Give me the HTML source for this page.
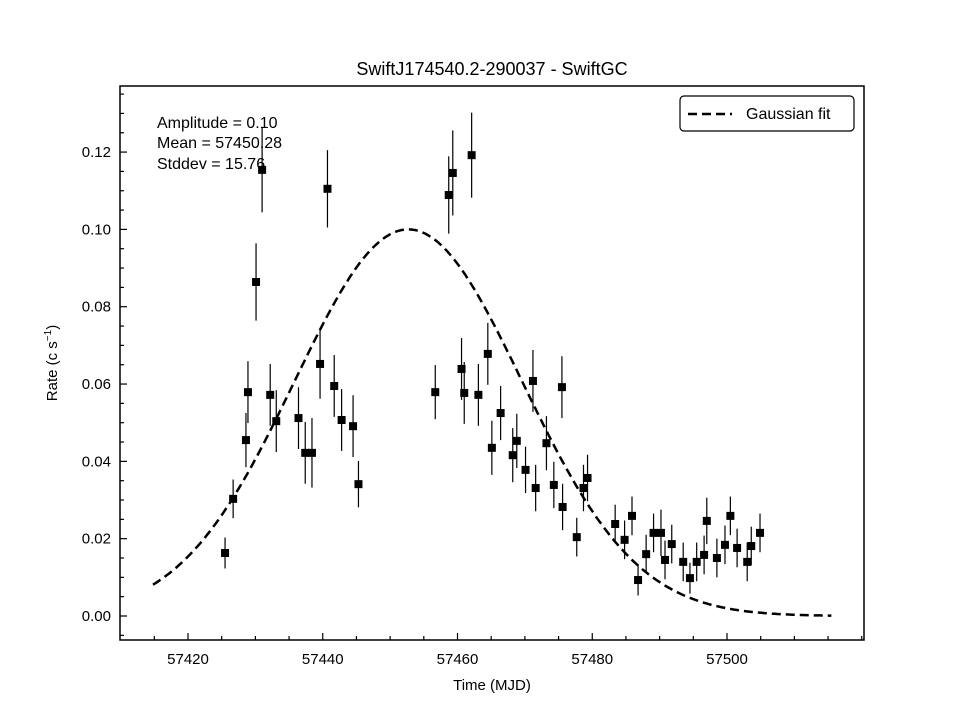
<!DOCTYPE html>
<html><head><meta charset="utf-8"><style>
body{margin:0;background:#fff}
svg{display:block;font-family:"Liberation Sans",sans-serif}
</style></head><body>
<svg id="chart" width="960" height="720">
<text x="492" y="75" font-size="18" text-anchor="middle">SwiftJ174540.2-290037 - SwiftGC</text>
<g id="plot"></g>
<rect x="120" y="86" width="744" height="554" fill="none" stroke="#000" stroke-width="1.5"/>
<text x="492" y="690" font-size="15" text-anchor="middle">Time (MJD)</text>
<text transform="translate(57,363) rotate(-90)" font-size="15" text-anchor="middle">Rate (c s<tspan dy="-6" font-size="10">−1</tspan><tspan dy="6">)</tspan></text>
<g font-size="16">
<text x="157" y="128">Amplitude = 0.10</text>
<text x="157" y="148">Mean = 57450.28</text>
<text x="157" y="169">Stddev = 15.76</text>
</g>
<g>
<rect x="680" y="96" width="174" height="35" rx="4" fill="#fff" stroke="#000" stroke-width="1.2"/>
<line x1="688" y1="114" x2="732" y2="114" stroke="#000" stroke-width="2.5" stroke-dasharray="9,5"/>
<text x="746" y="119" font-size="16">Gaussian fit</text>
</g>
</svg>
<script>
const times=[57425.5,57426.7,57428.6,57428.9,57430.1,57431.0,57432.2,57433.1,57436.4,57437.4,57438.4,57439.6,57440.7,57441.7,57442.8,57444.5,57445.3,57456.7,57458.7,57459.3,57460.6,57461.0,57462.1,57463.1,57464.5,57465.1,57466.4,57468.2,57468.8,57470.1,57471.2,57471.6,57473.2,57474.3,57475.5,57475.6,57477.7,57478.7,57479.3,57483.4,57484.8,57485.9,57486.8,57488.0,57489.1,57490.2,57490.8,57491.8,57493.5,57494.5,57495.5,57496.6,57497.0,57498.5,57499.7,57500.5,57501.5,57503.0,57503.6,57504.9];
const rates=[0.0163,0.0303,0.0455,0.0579,0.0864,0.1154,0.0572,0.0504,0.0512,0.0422,0.0422,0.0652,0.1105,0.0595,0.0507,0.0491,0.0341,0.0579,0.1089,0.1146,0.0639,0.0577,0.1192,0.0572,0.0678,0.0435,0.0525,0.0416,0.0453,0.0378,0.0608,0.0331,0.0447,0.0339,0.0592,0.0282,0.0204,0.0331,0.0357,0.0238,0.0197,0.0259,0.0093,0.0160,0.0215,0.0215,0.0145,0.0186,0.0140,0.0098,0.0140,0.0158,0.0246,0.0150,0.0184,0.0259,0.0176,0.0140,0.0181,0.0215];
const errs=[0.004,0.005,0.007,0.008,0.010,0.011,0.008,0.008,0.008,0.008,0.009,0.009,0.010,0.008,0.008,0.008,0.006,0.007,0.010,0.011,0.008,0.008,0.011,0.008,0.008,0.007,0.007,0.007,0.007,0.006,0.008,0.006,0.007,0.006,0.008,0.006,0.005,0.006,0.006,0.005,0.005,0.005,0.004,0.005,0.005,0.006,0.005,0.005,0.005,0.004,0.005,0.005,0.006,0.005,0.005,0.005,0.005,0.005,0.005,0.005];
const xTicks=[57420,57440,57460,57480,57500];
const yTicks=[0.00,0.02,0.04,0.06,0.08,0.10,0.12];
const fitAmp=0.10, fitMean=57452.7, fitStd=16.9, fitStart=57414.8, fitEnd=57515.5;
const X0=57420,XPX0=188,XS=6.7375,Y0PX=616,YS=3866;
const sx=v=>XPX0+(v-X0)*XS, sy=v=>Y0PX-v*YS;
const NS="http://www.w3.org/2000/svg",g=document.getElementById('plot');
function mk(t,a){const e=document.createElementNS(NS,t);for(const k in a)e.setAttribute(k,a[k]);g.appendChild(e);return e;}
for(let v=57410;v<=57520;v+=5){const x=sx(v);if(x<121||x>863)continue;const major=xTicks.includes(v);
const t=mk('line',{x1:x,x2:x,y1:640,y2:640-(major?7:4),stroke:'#000','stroke-width':1.2});

}
for(let i=-1;i<=27;i++){const v=i*0.005;const y=sy(v);if(y<87||y>639)continue;const major=i%4===0;
const t=mk('line',{x1:120,x2:120+(major?7:4),y1:y,y2:y,stroke:'#000','stroke-width':1.2});

}
xTicks.forEach(v=>{const t=mk('text',{x:sx(v),y:664,'font-size':15,'text-anchor':'middle'});t.textContent=String(v);

});
yTicks.forEach(v=>{const t=mk('text',{x:111,y:sy(v)+5,'font-size':15,'text-anchor':'end'});t.textContent=v.toFixed(2);

});
let d='';for(let i=0;i<=300;i++){const v=fitStart+(fitEnd-fitStart)*i/300;const r=fitAmp*Math.exp(-0.5*((v-fitMean)/fitStd)**2);d+=(i?'L':'M')+sx(v).toFixed(1)+','+sy(r).toFixed(1);}
const p=mk('path',{d:d,fill:'none',stroke:'#000','stroke-width':2.5,'stroke-dasharray':'9,5'});


times.forEach((t,i)=>{const x=sx(t),y=sy(rates[i]);
const e=mk('line',{x1:x,x2:x,y1:sy(rates[i]+errs[i]),y2:sy(rates[i]-errs[i]),stroke:'#000','stroke-width':1.2});


const r=mk('rect',{x:x-4,y:y-4,width:8,height:8,fill:'#000'});

});
</script>
</body></html>
